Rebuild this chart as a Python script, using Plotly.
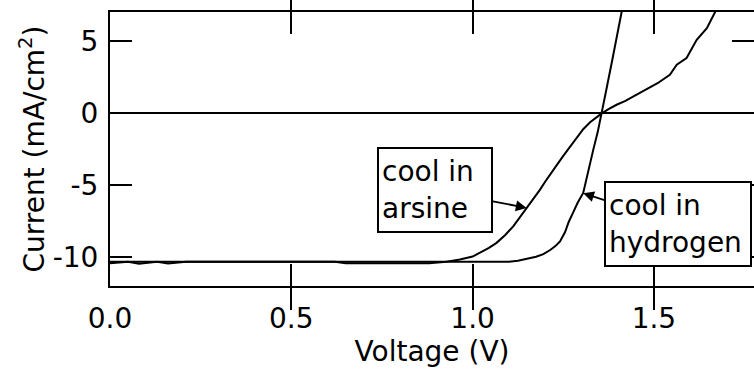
import plotly.graph_objects as go

# ---- data ----
arsine_v = [0.00, 0.03, 0.05, 0.08, 0.11, 0.13, 0.16, 0.19, 0.21, 0.40, 0.62, 0.65, 0.88,
            0.92, 0.965, 1.00, 1.02, 1.045, 1.066, 1.09, 1.112, 1.13, 1.149, 1.168, 1.186,
            1.20, 1.213, 1.232, 1.25, 1.269, 1.287, 1.305, 1.324, 1.34, 1.356, 1.375, 1.397,
            1.42, 1.443, 1.471, 1.49, 1.51, 1.544, 1.563, 1.59, 1.605, 1.618, 1.646, 1.669, 1.68]
arsine_j = [-10.42, -10.36, -10.32, -10.45, -10.36, -10.32, -10.44, -10.35, -10.32, -10.32,
            -10.32, -10.42, -10.42, -10.34, -10.16, -9.95, -9.69, -9.35, -9.0, -8.45, -7.85,
            -7.25, -6.6, -5.95, -5.3, -4.75, -4.25, -3.6, -2.95, -2.3, -1.65, -1.1, -0.62,
            -0.28, 0.0, 0.3, 0.6, 0.85, 1.18, 1.53, 1.8, 2.1, 2.69, 3.38, 3.85, 4.5, 5.12,
            5.93, 7.08, 7.6]

hydrogen_v = [0.00, 0.50, 1.00, 1.10, 1.125, 1.15, 1.175, 1.195, 1.215, 1.23, 1.241, 1.255,
              1.265, 1.278, 1.29, 1.305, 1.315, 1.324, 1.333, 1.345, 1.356, 1.37, 1.385,
              1.398, 1.411, 1.416]
hydrogen_j = [-10.32, -10.32, -10.32, -10.32, -10.25, -10.12, -9.97, -9.78, -9.48, -9.18,
              -8.9, -8.25, -7.55, -6.85, -6.2, -5.53, -4.4, -3.3, -2.5, -1.3, 0.0, 1.8,
              3.7, 5.4, 7.05, 7.7]

x_ticks = [0.0, 0.5, 1.0, 1.5]
x_ticktext = ["0.0", "0.5", "1.0", "1.5"]
y_ticks = [5, 0, -5, -10]
y_ticktext = ["5", "0", "-5", "-10"]
x_range = [0.0, 1.776]
y_range = [-12.0, 7.05]

labels = ["cool in<br>arsine", "cool in<br>hydrogen"]
label_pts = [(1.149, -6.57), (1.305, -5.55)]

FONT = "DejaVu Sans"
FS = 28

fig = go.Figure()
fig.add_trace(go.Scatter(x=arsine_v, y=arsine_j, mode="lines",
                         line=dict(color="black", width=2), showlegend=False))
fig.add_trace(go.Scatter(x=hydrogen_v, y=hydrogen_j, mode="lines",
                         line=dict(color="black", width=2), showlegend=False))
# invisible helper trace so the right-hand tick axis is drawn
fig.add_trace(go.Scatter(x=[x_range[0]], y=[y_range[0]], mode="lines", yaxis="y2",
                         line=dict(color="rgba(0,0,0,0)", width=0), showlegend=False,
                         hoverinfo="skip"))

axis_common = dict(showgrid=False, ticks="inside", ticklen=22, tickwidth=2,
                   tickcolor="black", linecolor="black", linewidth=2,
                   tickfont=dict(family=FONT, size=FS, color="black"))

fig.update_layout(
    width=754, height=374,
    margin=dict(l=110, r=0, t=12, b=88),
    paper_bgcolor="white", plot_bgcolor="white",
    font=dict(family=FONT, size=FS, color="black"),
    xaxis=dict(range=x_range, tickvals=x_ticks, ticktext=x_ticktext, showline=True,
               mirror="allticks", zeroline=False, ticklabelstandoff=6,
               title=dict(text="Voltage (V)", font=dict(family=FONT, size=FS), standoff=7),
               **axis_common),
    yaxis=dict(range=y_range, tickvals=y_ticks, ticktext=y_ticktext, showline=True,
               mirror=False, zeroline=True, zerolinecolor="black", zerolinewidth=2,
               ticklabelstandoff=4,
               title=dict(text="Current (mA/cm<sup>2</sup>)", font=dict(family=FONT, size=FS),
                          standoff=0),
               **axis_common),
    yaxis2=dict(range=y_range, tickvals=y_ticks, overlaying="y", side="right",
                showticklabels=False, showline=False, zeroline=False, showgrid=False,
                ticks="inside", ticklen=22, tickwidth=2, tickcolor="black"),
)

offsets = [(-92, -18), (95, 31)]
widths = [106, 138]
for txt, (xv, yv), (axp, ayp), w in zip(labels, label_pts, offsets, widths):
    fig.add_annotation(x=xv, y=yv, text=txt, showarrow=True, ax=axp, ay=ayp,
                       arrowhead=2, arrowsize=1.2, arrowwidth=1.8, arrowcolor="black",
                       bordercolor="black", borderwidth=2, borderpad=3, bgcolor="white",
                       align="left", width=w, height=76,
                       font=dict(family=FONT, size=FS, color="black"))

fig.write_html("out.html")
